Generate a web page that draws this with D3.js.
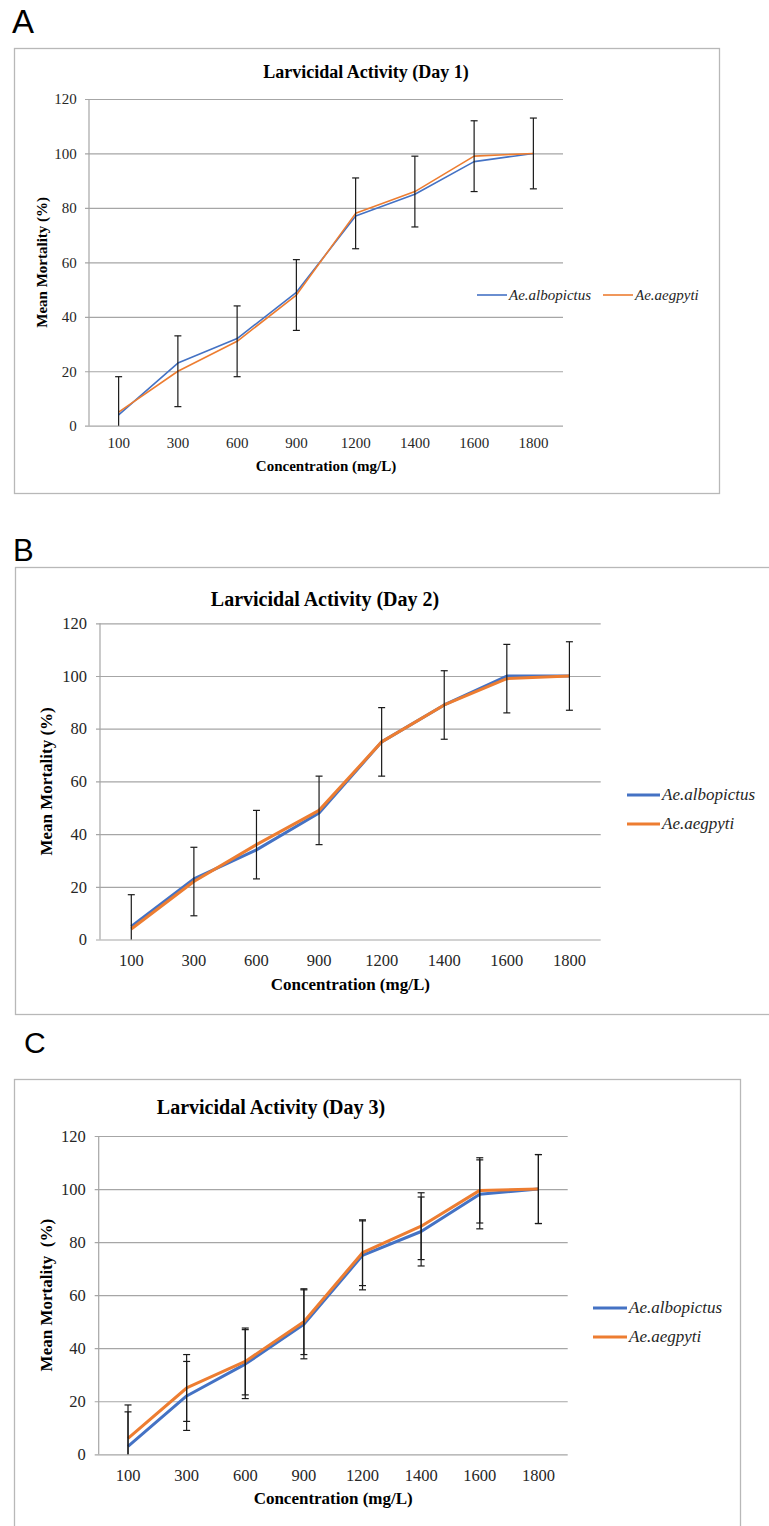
<!DOCTYPE html>
<html>
<head>
<meta charset="utf-8">
<script src="https://cdn.jsdelivr.net/npm/d3@7"></script>
<style>
  body { margin: 0; background: #fff; }
  svg { display: block; }
</style>
</head>
<body>
<div id="vis"></div>
<script>
// Data
const CONCENTRATIONS = ["100", "300", "600", "900", "1200", "1400", "1600", "1800"];
const Y_TICKS = [0, 20, 40, 60, 80, 100, 120];
const SERIES_NAMES = ["Ae.albopictus", "Ae.aegpyti"];

// Day 1
const DAY1_ALBOPICTUS = [4, 23, 32, 49, 77, 85, 97, 100];
const DAY1_AEGYPTI = [5, 20, 31, 48, 78, 86, 99, 100];
const DAY1_ERR = [13, 13, 13, 13, 13, 13, 13, 13];

// Day 2
const DAY2_ALBOPICTUS = [5, 23, 34, 48, 75, 89, 100, 100];
const DAY2_AEGYPTI = [4, 22, 36, 49, 75, 89, 99, 100];
const DAY2_ERR = [13, 13, 13, 13, 13, 13, 13, 13];

// Day 3 (error bars on both series)
const DAY3_ALBOPICTUS = [3, 22, 34, 49, 75, 84, 98, 100];
const DAY3_AEGYPTI = [6, 25, 35, 50, 76, 86, 99.5, 100];
const DAY3_ERR_ALBO = [13, 13, 13, 13, 13, 13, 13, 13];
const DAY3_ERR_AEGY = [12.6, 12.6, 12.6, 12.4, 12.4, 12.6, 12.3, 13];

const COLORS = ["#4472C4", "#ED7D31"];
const SERIF = "'Liberation Serif', 'Times New Roman', serif";
const SANS = "'Liberation Sans', Arial, sans-serif";

const FRAME_WIDTH = 769;
const FRAME_HEIGHT = 1526;

const SVG = d3.select("#vis")
    .append("svg")
    .attr("width", FRAME_WIDTH)
    .attr("height", FRAME_HEIGHT)
    .style("background", "#fff");

// panel layouts
const PANELS = [
    {
        letter: "A", letterX: 12, letterY: 33, letterSize: 33,
        frame: {x: 14, y: 48, w: 705, h: 445},
        plot: {left: 89, right: 563, top: 99, bottom: 425.7},
        title: "Larvicidal Activity (Day 1)", titleX: 366, titleY: 78, titleSize: 18,
        xTitleY: 471, yTitleX: 42, axisTitleSize: 15, yTitle: "Mean Mortality (%)",
        tickSize: 15, xTickY: 448, lineWidth: 1.6,
        series: [DAY1_ALBOPICTUS, DAY1_AEGYPTI],
        errors: [null, DAY1_ERR],
        legend: {type: "h", y: 295, items: [{x1: 477, x2: 507}, {x1: 603, x2: 633}], size: 15}
    },
    {
        letter: "B", letterX: 13, letterY: 561, letterSize: 31,
        frame: {x: 15, y: 567, w: 780, h: 447},
        plot: {left: 100, right: 600.7, top: 623.3, bottom: 939.5},
        title: "Larvicidal Activity (Day 2)", titleX: 325, titleY: 606, titleSize: 20,
        xTitleY: 990, yTitleX: 46, axisTitleSize: 17, yTitle: "Mean Mortality (%)",
        tickSize: 16.5, xTickY: 966, lineWidth: 3,
        series: [DAY2_ALBOPICTUS, DAY2_AEGYPTI],
        errors: [null, DAY2_ERR],
        legend: {type: "v", x1: 627, x2: 660, ys: [795, 824], size: 17}
    },
    {
        letter: "C", letterX: 24, letterY: 1053, letterSize: 30,
        frame: {x: 14, y: 1079, w: 726, h: 520},
        plot: {left: 98.7, right: 567.7, top: 1136, bottom: 1454.3},
        title: "Larvicidal Activity (Day 3)", titleX: 271, titleY: 1114, titleSize: 20,
        xTitleY: 1504, yTitleX: 46, axisTitleSize: 17, yTitle: "Mean Mortality\u00a0 (%)",
        tickSize: 16.5, xTickY: 1481, lineWidth: 3,
        series: [DAY3_ALBOPICTUS, DAY3_AEGYPTI],
        errors: [DAY3_ERR_ALBO, DAY3_ERR_AEGY],
        legend: {type: "v", x1: 593, x2: 627, ys: [1308, 1337], size: 17}
    }
];

function drawPanel(p) {
    const G = SVG.append("g");

    // panel letter
    G.append("text")
        .attr("x", p.letterX).attr("y", p.letterY)
        .attr("font-family", SANS).attr("font-size", p.letterSize)
        .attr("fill", "#000")
        .text(p.letter);

    // chart frame
    G.append("rect")
        .attr("x", p.frame.x + 0.5).attr("y", p.frame.y + 0.5)
        .attr("width", p.frame.w).attr("height", p.frame.h)
        .attr("fill", "#fff").attr("stroke", "#b8b8b8").attr("stroke-width", 1.3);

    const X_SCALE = d3.scaleBand()
        .domain(CONCENTRATIONS)
        .range([p.plot.left, p.plot.right]);
    const Y_SCALE = d3.scaleLinear()
        .domain([0, 120])
        .range([p.plot.bottom, p.plot.top]);
    const cx = (i) => X_SCALE(CONCENTRATIONS[i]) + X_SCALE.bandwidth() / 2;
    const plotW = p.plot.right - p.plot.left;

    // gridlines + y tick labels
    const yAxis = G.append("g")
        .attr("transform", "translate(" + p.plot.right + ",0)")
        .call(d3.axisLeft(Y_SCALE).tickValues(Y_TICKS).tickSize(plotW + 4).tickPadding(p.tickSize * 0.55));
    yAxis.select(".domain").remove();
    yAxis.selectAll("line").attr("stroke", "#a6a6a6").attr("stroke-width", 1.2);
    yAxis.selectAll("text")
        .attr("font-family", SERIF).attr("font-size", p.tickSize).attr("fill", "#262626");

    // vertical axis line
    G.append("line")
        .attr("x1", p.plot.left).attr("x2", p.plot.left)
        .attr("y1", Y_SCALE(120)).attr("y2", Y_SCALE(0))
        .attr("stroke", "#a6a6a6").attr("stroke-width", 1.2);

    // x tick labels
    const xAxis = G.append("g")
        .attr("transform", "translate(0," + p.plot.bottom + ")")
        .call(d3.axisBottom(X_SCALE).tickSize(0).tickPadding(0));
    xAxis.select(".domain").remove();
    xAxis.selectAll("text")
        .attr("y", p.xTickY - p.plot.bottom).attr("dy", null)
        .attr("font-family", SERIF).attr("font-size", p.tickSize).attr("fill", "#262626");

    // lines
    const line = d3.line()
        .x((d, i) => cx(i))
        .y((d) => Y_SCALE(d));
    p.series.forEach((vals, s) => {
        G.append("path")
            .datum(vals)
            .attr("d", line)
            .attr("fill", "none")
            .attr("stroke", COLORS[s])
            .attr("stroke-width", p.lineWidth)
            .attr("stroke-linejoin", "round");
    });

    // error bars
    p.series.forEach((vals, s) => {
        const err = p.errors[s];
        if (!err) return;
        vals.forEach((v, i) => {
            const x = cx(i);
            const hi = v + err[i];
            const lo = Math.max(0, v - err[i]);
            G.append("line")
                .attr("x1", x).attr("x2", x)
                .attr("y1", Y_SCALE(hi)).attr("y2", Y_SCALE(lo))
                .attr("stroke", "#1a1a1a").attr("stroke-width", 1.2);
            const caps = [hi];
            if (v - err[i] >= 0) caps.push(lo);
            caps.forEach((c) => {
                G.append("line")
                    .attr("x1", x - 3.5).attr("x2", x + 3.5)
                    .attr("y1", Y_SCALE(c)).attr("y2", Y_SCALE(c))
                    .attr("stroke", "#1a1a1a").attr("stroke-width", 1.2);
            });
        });
    });

    // titles
    G.append("text")
        .attr("x", p.titleX).attr("y", p.titleY)
        .attr("text-anchor", "middle")
        .attr("font-family", SERIF).attr("font-weight", "bold").attr("font-size", p.titleSize)
        .text(p.title);
    G.append("text")
        .attr("x", (p.plot.left + p.plot.right) / 2).attr("y", p.xTitleY)
        .attr("text-anchor", "middle")
        .attr("font-family", SERIF).attr("font-weight", "bold").attr("font-size", p.axisTitleSize)
        .text("Concentration (mg/L)");
    G.append("text")
        .attr("transform", "translate(" + p.yTitleX + "," + ((p.plot.top + p.plot.bottom) / 2) + ") rotate(-90)")
        .attr("text-anchor", "middle").attr("dy", "0.35em")
        .attr("font-family", SERIF).attr("font-weight", "bold").attr("font-size", p.axisTitleSize)
        .style("white-space", "pre")
        .text(p.yTitle);

    // legend
    const lg = p.legend;
    SERIES_NAMES.forEach((name, s) => {
        let x1, x2, y;
        if (lg.type === "h") { x1 = lg.items[s].x1; x2 = lg.items[s].x2; y = lg.y; }
        else { x1 = lg.x1; x2 = lg.x2; y = lg.ys[s]; }
        G.append("line")
            .attr("x1", x1).attr("x2", x2).attr("y1", y).attr("y2", y)
            .attr("stroke", COLORS[s]).attr("stroke-width", p.lineWidth);
        G.append("text")
            .attr("x", x2 + 2).attr("y", y).attr("dy", "0.32em")
            .attr("font-family", SERIF).attr("font-style", "italic").attr("font-size", lg.size)
            .attr("fill", "#262626")
            .text(name);
    });
}

PANELS.forEach(drawPanel);
</script>
</body>
</html>
